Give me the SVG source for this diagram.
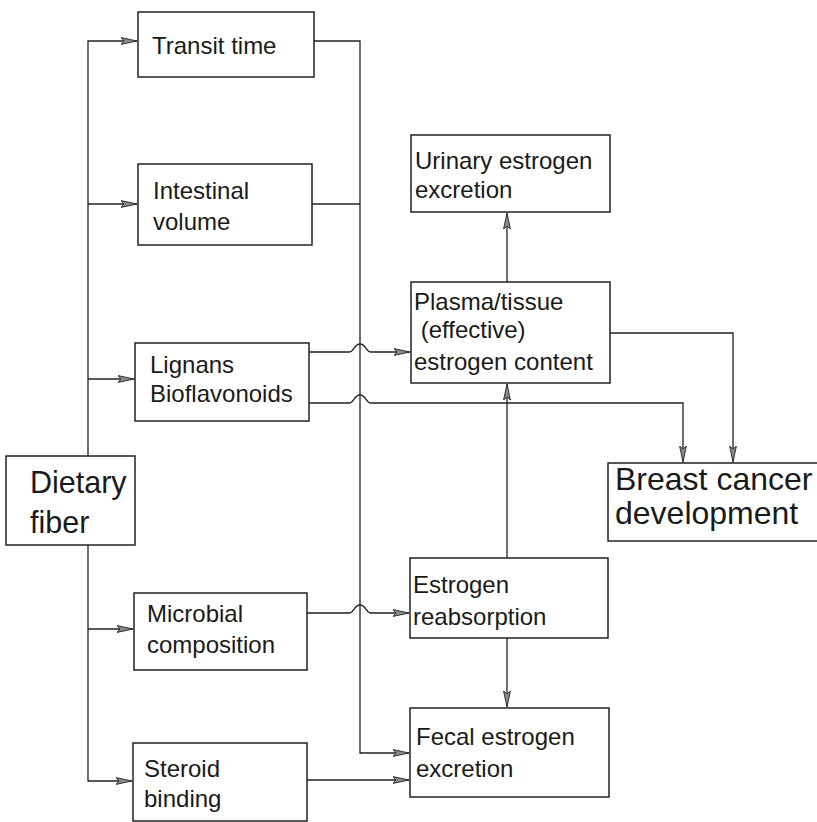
<svg xmlns="http://www.w3.org/2000/svg" width="817" height="822" viewBox="0 0 817 822">
<style>
.box{fill:#fff;stroke:#222;stroke-width:1.5}
.t{font-family:"Liberation Sans",Arial,sans-serif;font-size:24px;fill:#1a1a1a}
.big{font-size:30.5px}
.bc{font-size:32px}
.c{fill:none;stroke:#222;stroke-width:1.3}
</style>
<defs>
<marker id="ah" viewBox="0 0 16 8" refX="16" refY="4" markerWidth="16" markerHeight="8" markerUnits="userSpaceOnUse" orient="auto">
<path d="M0,0.6 L16,4 L0,7.4 L3,4 Z" fill="#8a8a8a" stroke="#333" stroke-width="1"/>
</marker>
</defs>
<rect width="817" height="822" fill="#fff"/>
<g id="connectors">
<path class="c" d="M88,456 V41 H137" marker-end="url(#ah)"/>
<path class="c" d="M88,204 H137" marker-end="url(#ah)"/>
<path class="c" d="M88,379 H134" marker-end="url(#ah)"/>
<path class="c" d="M88,545 V781 H132" marker-end="url(#ah)"/>
<path class="c" d="M88,629 H133" marker-end="url(#ah)"/>
<path class="c" d="M314,41 H360 V753 H409" marker-end="url(#ah)"/>
<path class="c" d="M312,204 H360"/>
<path class="c" d="M309,352 H349 C354,352 354,344 360,344 C366,344 366,352 371,352 H410" marker-end="url(#ah)"/>
<path class="c" d="M309,403 H349 C354,403 354,395 360,395 C366,395 366,403 371,403 H683 V462" marker-end="url(#ah)"/>
<path class="c" d="M307,613 H349 C354,613 354,605 360,605 C366,605 366,613 371,613 H409" marker-end="url(#ah)"/>
<path class="c" d="M307,780 H409" marker-end="url(#ah)"/>
<path class="c" d="M507,282 V213" marker-end="url(#ah)"/>
<path class="c" d="M507,558 V384" marker-end="url(#ah)"/>
<path class="c" d="M507,638 V707" marker-end="url(#ah)"/>
<path class="c" d="M610,333 H733 V462" marker-end="url(#ah)"/>
</g>
<g id="transit">
<rect class="box" x="138" y="12" width="176" height="65"/>
<text class="t" x="152" y="54">Transit time</text>
</g>
<g id="intestinal">
<rect class="box" x="138" y="164" width="174" height="81"/>
<text class="t" x="153" y="199">Intestinal</text>
<text class="t" x="153" y="230">volume</text>
</g>
<g id="lignans">
<rect class="box" x="135" y="343" width="174" height="78"/>
<text class="t" x="150" y="373">Lignans</text>
<text class="t" x="150" y="402">Bioflavonoids</text>
</g>
<g id="dietary">
<rect class="box" x="6" y="456" width="129" height="89"/>
<text class="t big" x="30" y="493">Dietary</text>
<text class="t big" x="30" y="533">fiber</text>
</g>
<g id="microbial">
<rect class="box" x="134" y="593" width="173" height="77"/>
<text class="t" x="147" y="622">Microbial</text>
<text class="t" x="147" y="653">composition</text>
</g>
<g id="steroid">
<rect class="box" x="133" y="743" width="174" height="78"/>
<text class="t" x="144" y="777">Steroid</text>
<text class="t" x="144" y="807">binding</text>
</g>
<g id="urinary">
<rect class="box" x="411" y="135" width="199" height="77"/>
<text class="t" x="415" y="169">Urinary estrogen</text>
<text class="t" x="415" y="198">excretion</text>
</g>
<g id="plasma">
<rect class="box" x="411" y="282" width="199" height="101"/>
<text class="t" x="414" y="310">Plasma/tissue</text>
<text class="t" x="414" y="338" xml:space="preserve"> (effective)</text>
<text class="t" x="414" y="370">estrogen content</text>
</g>
<g id="breast">
<rect class="box" x="608" y="463" width="220" height="78"/>
<text class="t bc" x="615" y="490">Breast cancer</text>
<text class="t bc" x="615" y="524">development</text>
</g>
<g id="reabsorption">
<rect class="box" x="410" y="558" width="198" height="80"/>
<text class="t" x="413" y="593">Estrogen</text>
<text class="t" x="413" y="625">reabsorption</text>
</g>
<g id="fecal">
<rect class="box" x="410" y="708" width="199" height="89"/>
<text class="t" x="416" y="745">Fecal estrogen</text>
<text class="t" x="416" y="777">excretion</text>
</g>
</svg>
